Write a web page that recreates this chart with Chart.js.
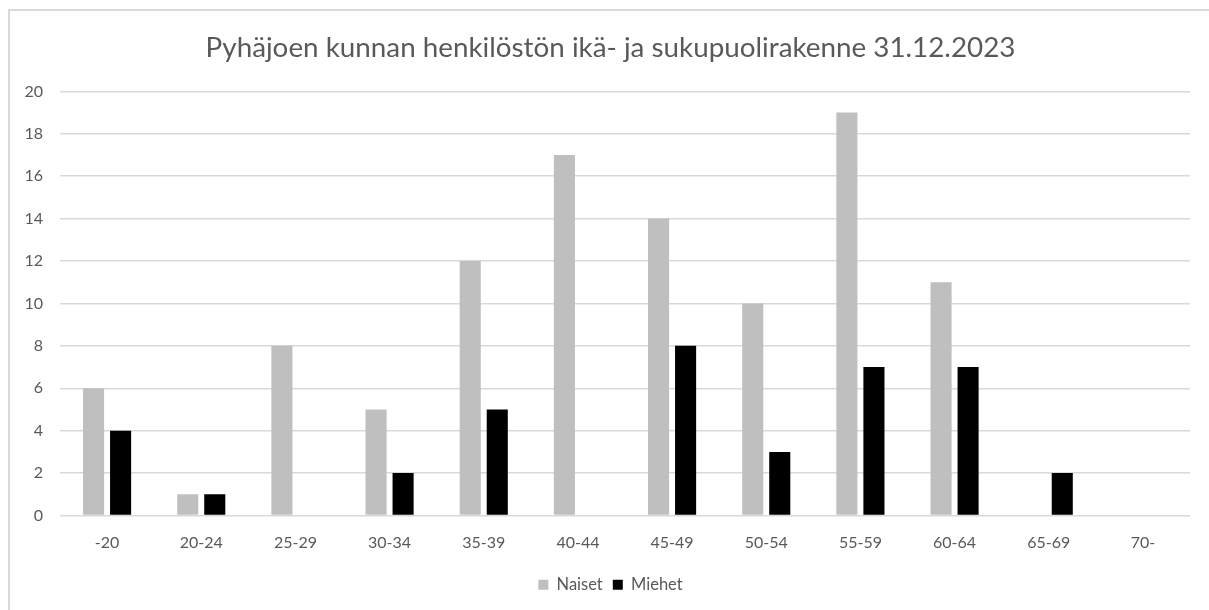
<!DOCTYPE html>
<html>
<head>
<meta charset="utf-8">
<script src="https://cdn.jsdelivr.net/npm/chart.js@4/dist/chart.umd.min.js"></script>
<style>
  html, body { margin: 0; padding: 0; background: #fff; }
  #wrap { position: relative; width: 1209px; height: 610px; }
</style>
</head>
<body>
<div id="wrap"><canvas id="chart"></canvas></div>
<script>
// Ikäryhmät ja henkilöstömäärät
const ikaryhmat = ['-20', '20-24', '25-29', '30-34', '35-39', '40-44', '45-49', '50-54', '55-59', '60-64', '65-69', '70-'];
const naiset = [6, 1, 8, 5, 12, 17, 14, 10, 19, 11, 0, 0];
const miehet = [4, 1, 0, 2, 5, 0, 8, 3, 7, 7, 2, 0];

const FONT = "Lato, 'Noto Sans', sans-serif";
const TEKSTI = '#595959';

// kehys kaavion ympärillä (Excel-tyyli)
const kehys = {
  id: 'kehys',
  beforeDraw(chart) {
    const c = chart.ctx;
    c.save();
    c.strokeStyle = '#d9d9d9';
    c.lineWidth = 2;
    c.beginPath();
    c.moveTo(9, 620);
    c.lineTo(9, 10);
    c.lineTo(1220, 10);
    c.stroke();
    c.restore();
  }
};

new Chart(document.getElementById('chart'), {
  type: 'bar',
  data: {
    labels: ikaryhmat,
    datasets: [
      { label: 'Naiset', data: naiset, backgroundColor: '#bfbfbf', barPercentage: 0.78, categoryPercentage: 0.574 },
      { label: 'Miehet', data: miehet, backgroundColor: '#000000', barPercentage: 0.78, categoryPercentage: 0.574 },
    ],
  },
  options: {
    responsive: true, maintainAspectRatio: false, animation: false,
    layout: { padding: { left: 12, right: 0, top: 0, bottom: 7 } },
    scales: {
      x: {
        grid: { display: false, drawTicks: false },
        border: { display: false },
        ticks: { color: TEKSTI, font: { family: FONT, size: 16 }, padding: 18 },
        afterFit: s => { s.height = 51; },
      },
      y: {
        min: 0, max: 20,
        grid: { color: '#d9d9d9', lineWidth: 1.5, drawTicks: false },
        border: { display: false },
        ticks: { stepSize: 2, color: TEKSTI, font: { family: FONT, size: 16 }, padding: 17 },
        afterFit: s => { s.width = 48; },
      },
      // tyhjä tila oikealle
      oikea: {
        type: 'linear', position: 'right',
        grid: { display: false, drawTicks: false },
        border: { display: false },
        ticks: { display: false },
        afterFit: s => { s.width = 19; },
      },
    },
    plugins: {
      title: {
        display: true,
        text: 'Pyhäjoen kunnan henkilöstön ikä- ja sukupuolirakenne 31.12.2023',
        color: TEKSTI,
        font: { family: FONT, size: 27.8, weight: 'normal' },
        padding: { top: 31, bottom: 27 },
      },
      legend: {
        position: 'bottom',
        labels: { color: TEKSTI, font: { family: FONT, size: 16.5 }, boxWidth: 10, boxHeight: 10, padding: 10, useBorderRadius: false },
      },
      tooltip: { enabled: false },
    },
  },
  plugins: [kehys],
});
</script>
</body>
</html>
